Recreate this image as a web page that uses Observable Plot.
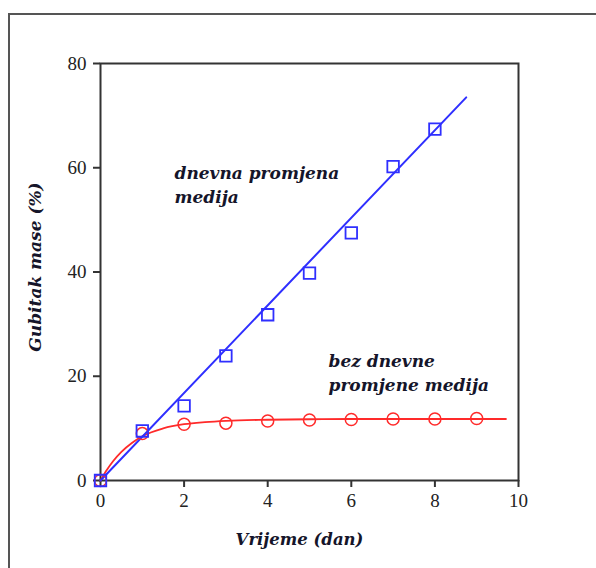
<!DOCTYPE html>
<html>
<head>
<meta charset="utf-8">
<script src="https://cdn.jsdelivr.net/npm/d3@7"></script>
<script src="https://cdn.jsdelivr.net/npm/@observablehq/plot@0.6"></script>
<style>
  html, body { margin: 0; padding: 0; background: #fff; }
  #wrap { position: relative; width: 596px; height: 568px; }
  #border { position: absolute; left: 8px; top: 13px; right: 0; bottom: 0;
            border-left: 2px solid #555; border-top: 2px solid #555; pointer-events: none; }
</style>
</head>
<body>
<div id="wrap"><div id="border"></div></div>
<script>
// Measured data: daily medium change (squares)
const daysDaily = [0, 1, 2, 3, 4, 5, 6, 7, 8];
const lossDaily = [0, 9.5, 14.3, 23.9, 31.8, 39.8, 47.5, 60.2, 67.4];
// Measured data: without daily medium change (circles)
const daysNoChange = [0, 1, 2, 3, 4, 5, 6, 7, 8, 9];
const lossNoChange = [0, 9.0, 10.8, 11.0, 11.4, 11.6, 11.7, 11.8, 11.8, 11.9];
// Fitted line (daily change)
const fitDailyT = [0, 8.75];
const fitDailyY = [0, 73.5];
// Fitted curve (no change)
const fitNoT = [0, 0.15, 0.3, 0.5, 0.75, 1, 1.5, 2, 2.5, 3, 4, 5, 6, 8, 9.7];
const fitNoY = [0, 2.0, 3.7, 5.5, 7.2, 8.5, 10.0, 10.8, 11.2, 11.45, 11.65, 11.75, 11.8, 11.8, 11.8];
// Axis ticks
const xTicks = [0, 2, 4, 6, 8, 10];
const yTicks = [0, 20, 40, 60, 80];

const sq = daysDaily.map((t, i) => ({t, v: lossDaily[i]}));
const ci = daysNoChange.map((t, i) => ({t, v: lossNoChange[i]}));
const lineD = fitDailyT.map((t, i) => ({t, v: fitDailyY[i]}));
const lineN = fitNoT.map((t, i) => ({t, v: fitNoY[i]}));

const blue = "#2f2fff";
const red = "#ff2a2a";
const labelFont = "'DejaVu Serif', serif";
const labelColor = "#15152a";

const chart = Plot.plot({
  width: 596,
  height: 568,
  marginLeft: 100,
  marginRight: 78,
  marginTop: 63,
  marginBottom: 88,
  style: { fontFamily: "'Liberation Serif', serif", background: "transparent", overflow: "visible" },
  x: { domain: [0, 10] },
  y: { domain: [0, 80] },
  marks: [
    Plot.frame({ stroke: "#333", strokeWidth: 2 }),
    Plot.axisX({ ticks: xTicks, tickSize: 7, tickPadding: 6, fontSize: 19, label: null, stroke: "#333", strokeWidth: 2, color: "#222" }),
    Plot.axisY({ ticks: yTicks, tickSize: 7, tickPadding: 7, fontSize: 19, label: null, stroke: "#333", strokeWidth: 2, color: "#222" }),
    Plot.line(lineN, { x: "t", y: "v", stroke: red, strokeWidth: 1.8, curve: "monotone-x" }),
    Plot.line(lineD, { x: "t", y: "v", stroke: blue, strokeWidth: 2 }),
    Plot.dot(ci, { x: "t", y: "v", r: 6, stroke: red, strokeWidth: 1.5, fill: "none" }),
    Plot.dot(sq, { x: "t", y: "v", r: 6.5, symbol: "square", stroke: blue, strokeWidth: 1.8, fill: "none" }),
    Plot.text(["dnevna promjena\nmedija"], { frameAnchor: "top-left", dx: 74, dy: 99, textAnchor: "start", lineAnchor: "top", lineHeight: 1.4, fontSize: 17, fontStyle: "italic", fontWeight: "bold", fontFamily: labelFont, fill: labelColor }),
    Plot.text(["bez dnevne\npromjene medija"], { frameAnchor: "top-left", dx: 228, dy: 287, textAnchor: "start", lineAnchor: "top", lineHeight: 1.4, fontSize: 17, fontStyle: "italic", fontWeight: "bold", fontFamily: labelFont, fill: labelColor }),
    Plot.text(["Vrijeme (dan)"], { frameAnchor: "bottom", textAnchor: "middle", dx: -10, dy: 64, fontSize: 16.5, fontStyle: "italic", fontWeight: "bold", fontFamily: labelFont, fill: labelColor }),
    Plot.text(["Gubitak mase (%)"], { frameAnchor: "left", textAnchor: "middle", dx: -65, dy: -5, rotate: -90, fontSize: 17, fontStyle: "italic", fontWeight: "bold", fontFamily: labelFont, fill: labelColor })
  ]
});
document.getElementById("wrap").prepend(chart);
</script>
</body>
</html>
